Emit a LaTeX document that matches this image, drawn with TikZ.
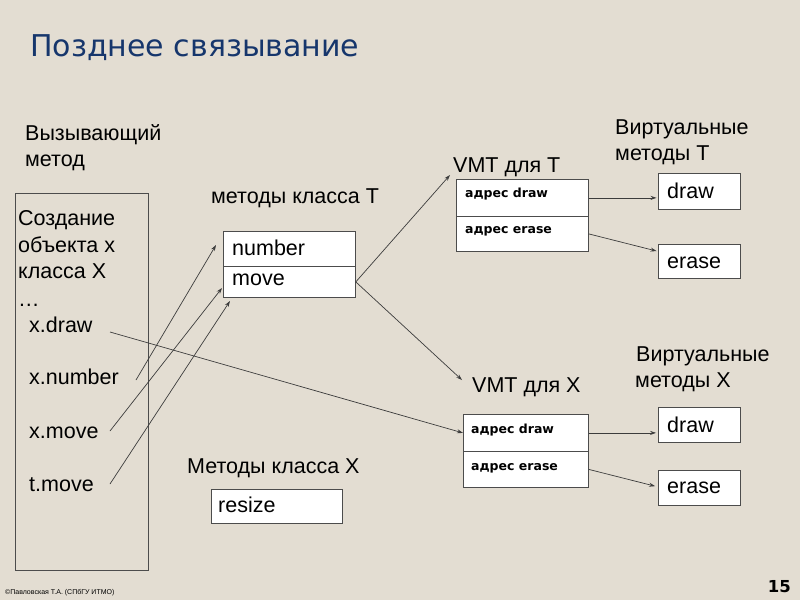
\documentclass[tikz,border=0pt]{standalone}
\usepackage{fontspec}
\setmainfont{Liberation Sans}
\newfontfamily\titlefont{DejaVu Sans}
\usetikzlibrary{arrows.meta}
\definecolor{bg}{RGB}{227,221,210}
\definecolor{titleblue}{RGB}{22,54,108}
\definecolor{linegray}{RGB}{60,60,60}
\begin{document}
\begin{tikzpicture}[x=1pt,y=-1pt,
  box/.style={draw=black!70, fill=white, line width=0.8pt, inner sep=0pt, anchor=north west},
  txt/.style={anchor=base west, inner sep=0pt, font=\fontsize{21.5}{25}\selectfont},
  small/.style={anchor=base west, inner sep=0pt, font=\titlefont\bfseries\fontsize{12.5}{15}\selectfont},
  arr/.style={draw=linegray, line width=0.7pt, -{Stealth[length=6pt,width=4pt]}},
  ln/.style={draw=linegray, line width=0.7pt}]
\fill[bg] (0,0) rectangle (800,600);
\useasboundingbox (0,0) rectangle (800,600);
% title
\node[anchor=base west, inner sep=0pt, text=titleblue, font=\titlefont\fontsize{30}{34}\selectfont] (title) at (30,56) {Позднее связывание};
% caller
\node[txt] (caller1) at (25,140) {Вызывающий};
\node[txt] (caller2) at (25,166) {метод};
\node[box, minimum width=133pt, minimum height=377pt, fill=none] (left) at (15,193) {};
\node[txt] (c1) at (18,225) {Создание};
\node[txt] (c2) at (18,252) {объекта х};
\node[txt] (c3) at (18,278) {класса X};
\node[txt] (c4) at (18,306) {…};
\node[txt] (xdraw) at (29,332) {x.draw};
\node[txt] (xnumber) at (29,384) {x.number};
\node[txt] (xmove) at (29,438) {x.move};
\node[txt] (tmove) at (29,491) {t.move};
% class T methods
\node[txt] (mT) at (211,203) {методы класса T};
\node[box, minimum width=132pt, minimum height=35pt] (num) at (223,231) {};
\node[box, minimum width=132pt, minimum height=31pt] (move) at (223,266) {};
\node[txt] at (232,255) {number};
\node[txt] at (232,285) {move};
% class X methods
\node[txt] (mX) at (187,473) {Методы класса X};
\node[box, minimum width=131pt, minimum height=34pt] (resize) at (211,489) {};
\node[txt] at (218,512) {resize};
% VMT T
\node[txt] (vmtT) at (453,172) {VMT для T};
\node[box, minimum width=132pt, minimum height=37pt] (vtd) at (456,179) {};
\node[box, minimum width=132pt, minimum height=35pt] (vte) at (456,216) {};
\node[small] at (465,197) {адрес draw};
\node[small] at (465,233) {адрес erase};
\node[txt] (virtT1) at (615,134) {Виртуальные};
\node[txt] (virtT2) at (615,160) {методы T};
\node[box, minimum width=82pt, minimum height=36pt] (dT) at (658,173) {};
\node[box, minimum width=82pt, minimum height=34pt] (eT) at (658,244) {};
\node[txt] at (667,198) {draw};
\node[txt] at (667,268) {erase};
% VMT X
\node[txt] (vmtX) at (472,392) {VMT для X};
\node[box, minimum width=125pt, minimum height=37pt] (vxd) at (463,414) {};
\node[box, minimum width=125pt, minimum height=36pt] (vxe) at (463,451) {};
\node[small] at (471,433) {адрес draw};
\node[small] at (471,470) {адрес erase};
\node[txt] (virtX1) at (636,361) {Виртуальные};
\node[txt] (virtX2) at (635,387) {методы X};
\node[box, minimum width=82pt, minimum height=35pt] (dX) at (658,407) {};
\node[box, minimum width=82pt, minimum height=35pt] (eX) at (658,470) {};
\node[txt] at (667,432) {draw};
\node[txt] at (667,493) {erase};
% connector endpoints
\coordinate (sNum) at (136,380);
\coordinate (tNum) at (216,245);
\coordinate (sMove) at (110,431);
\coordinate (tMove) at (222,288);
\coordinate (sT) at (110,484);
\coordinate (tT) at (230,301);
\coordinate (sDraw) at (110,332);
\coordinate (tVT) at (450,175);
\coordinate (tVX) at (462,380);
% connectors
\draw[arr] (sNum) -- (tNum);
\draw[arr] (sMove) -- (tMove);
\draw[arr] (sT) -- (tT);
\draw[arr] (sDraw) -- (vxd.west);
\draw[arr] (move.east) -- (tVT);
\draw[arr] (move.east) -- (tVX);
\draw[arr, shorten >=1.5pt] (vtd.east) -- (vtd.east -| dT.west);
\draw[arr, shorten >=1.5pt] (vte.east) -- ([yshift=10pt]eT.west);
\draw[arr, shorten >=2pt] (vxd.east) -- (vxd.east -| dX.west);
\draw[arr, shorten >=3pt] (vxe.east) -- ([yshift=1pt]eX.west);
% footer
\node[anchor=base west, inner sep=0pt, font=\fontsize{7}{8}\selectfont] (foot) at (5,594) {©Павловская Т.А. (СПбГУ ИТМО)};
\node[anchor=base east, inner sep=0pt, font=\titlefont\bfseries\fontsize{16.5}{20}\selectfont] (page) at (791,592) {15};
\end{tikzpicture}
\end{document}
